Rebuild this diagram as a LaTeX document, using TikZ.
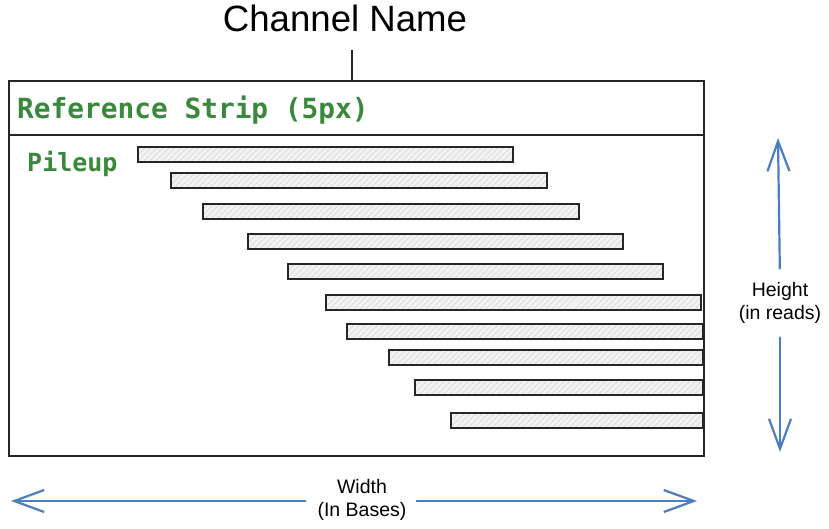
\documentclass[tikz,border=0pt]{standalone}
\usepackage{fontspec}
\setmainfont{Liberation Sans}
\newfontfamily\stripfont{DejaVu Sans Mono}
\usepackage{tikz}
\usetikzlibrary{arrows.meta,positioning,patterns.meta}
\definecolor{stripgreen}{HTML}{3A883C}
\definecolor{dimblue}   {HTML}{4A7EC0}
\definecolor{edgegray}  {HTML}{262626}
\definecolor{readfill}  {HTML}{F2F2F2}

\begin{document}
\begin{tikzpicture}[
  frame/.style={draw=edgegray,line width=2pt,inner sep=0pt,
                anchor=north west},
  read/.style={draw=edgegray,line width=2pt,inner sep=0pt,
               minimum height=15pt,anchor=west,
               preaction={fill=readfill},
               pattern={Lines[angle=45,distance=4pt,line width=0.6pt]},
               pattern color=black!22},
  mono/.style={font=\stripfont\bfseries,text=stripgreen,inner sep=0pt,
               anchor=base west},
  dimtext/.style={font=\fontsize{19.5}{22.5}\selectfont,align=center,
                  inner sep=0pt},
  dim/.style={-{Straight Barb[length=30pt,width=22pt]},draw=dimblue,
              line width=2.2pt,line cap=round},
  x=1pt,y=-1pt
]
\useasboundingbox (0,0) rectangle (829,529);
% Channel box and reference strip
\node[frame,minimum width=695pt,minimum height=375pt] (chan)  at (8,80) {};
\node[frame,minimum width=695pt,minimum height=54pt]  (strip) at (8,80) {};
\node[mono,font=\stripfont\bfseries\fontsize{27.8}{30}\selectfont]
      (striplbl) at (17,119) {Reference Strip (5px)};
\node[mono,font=\stripfont\bfseries\fontsize{25}{28}\selectfont]
      (pileup)   at (27,172) {Pileup};
% Title
\node[font=\fontsize{36.6}{40}\selectfont,inner sep=0pt,anchor=base]
      (title) at (345,32) {Channel Name};
\coordinate (tick) at (352,50);
\draw[edgegray,line width=1.8pt] (tick) -- (tick |- chan.north);
% Reads in the pileup
\node[read,minimum width=375pt] (r1)  at (138,155)   {};
\node[read,minimum width=376pt] (r2)  at (170,180.5) {};
\node[read,minimum width=376pt] (r3)  at (202,211.5) {};
\node[read,minimum width=375pt] (r4)  at (247,241.5) {};
\node[read,minimum width=375pt] (r5)  at (287,271.5) {};
\node[read,minimum width=375pt] (r6)  at (325,302.5) {};
\node[read,minimum width=356pt] (r7)  at (346,331.5) {};
\node[read,minimum width=314pt] (r8)  at (388,357)   {};
\node[read,minimum width=288pt] (r9)  at (414,387)   {};
\node[read,minimum width=252pt] (r10) at (450,420.5) {};
% Height
\node[dimtext] (hgt) at (780,303) {Height\\(in reads)};
\coordinate (htop) at (778,138);
\coordinate (hbot) at (780,452);
\draw[dim,shorten <=14pt] (hgt.north) -- (htop);
\draw[dim,shorten <=14pt] (hgt.south) -- (hbot);
% Width
\node[dimtext] (wid) at (362,500) {Width\\(In Bases)};
\coordinate (wleft)  at (11,501);
\coordinate (wright) at (697,501);
\draw[dim,shorten <=12pt] (wid.west |- wleft) -- (wleft);
\draw[dim,shorten <=10pt] (wid.east |- wright) -- (wright);
\end{tikzpicture}
\end{document}
